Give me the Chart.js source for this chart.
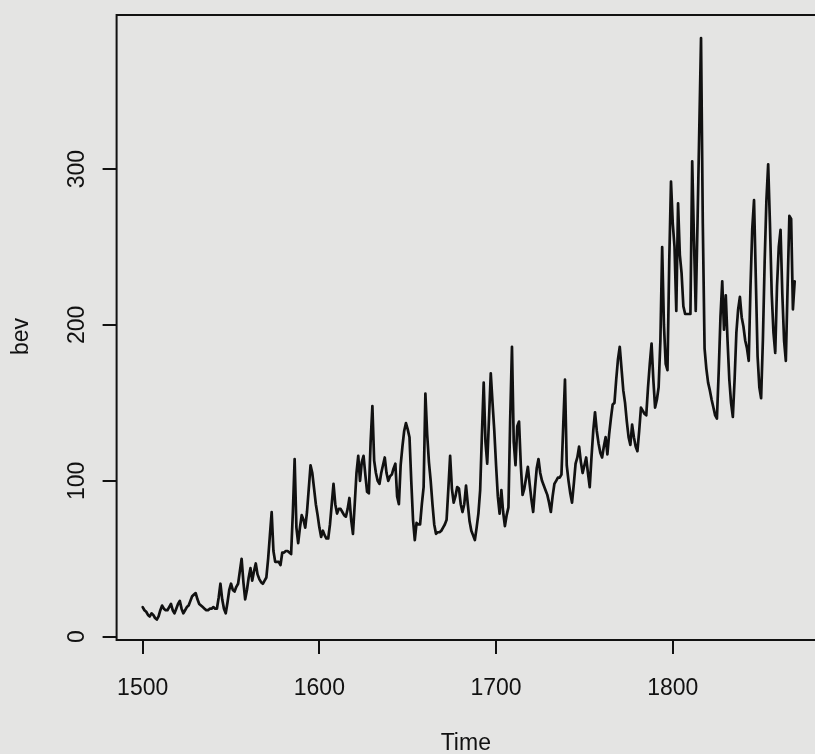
<!DOCTYPE html>
<html>
<head>
<meta charset="utf-8">
<title>bev</title>
<script src="https://cdn.jsdelivr.net/npm/chart.js@4.4.1/dist/chart.umd.min.js"></script>
<style>
    html, body { margin: 0; padding: 0; background: #e4e4e3; }
    #bevChart { display: block; }
</style>
</head>
<body>
<canvas id="bevChart" width="815" height="754"></canvas>
<script>
// Beveridge wheat price index, one value per year from 1500 to 1869
const startYear = 1500;

const bev1500s = [
    19, 17, 16, 14, 13, 15, 14, 12, 11, 13,
    17, 20, 18, 17, 17, 19, 21, 17, 15, 18,
    21, 23, 18, 15, 17, 19, 20, 23, 26, 27,
    28, 24, 21, 20, 19, 18, 17, 17, 18, 18,
    19, 18, 18, 25, 34, 24, 18, 15, 22, 30,
    34, 30, 29, 32, 34, 42, 50, 35, 24, 30,
    38, 44, 36, 42, 47, 40, 37, 35, 34, 36,
    38, 50, 65, 80, 55, 48, 48, 48, 46, 54,
    54, 55, 55, 54, 53, 80, 114, 70, 60, 70,
    78, 75, 70, 80, 95, 110, 105, 95, 85, 78
];

const bev1600s = [
    70, 64, 68, 65, 63, 63, 72, 85, 98, 85,
    79, 82, 82, 80, 78, 77, 82, 89, 75, 66,
    85, 105, 116, 100, 112, 116, 104, 93, 92, 125,
    148, 113, 105, 100, 98, 105, 110, 115, 105, 100,
    103, 104, 108, 111, 90, 85, 110, 122, 132, 137,
    133, 128, 100, 75, 62, 73, 72, 72, 85, 96,
    156, 130, 112, 100, 85, 72, 66, 67, 67, 68,
    70, 72, 75, 95, 116, 95, 86, 90, 96, 95,
    85, 80, 85, 97, 85, 74, 68, 65, 62, 70,
    79, 94, 130, 163, 125, 111, 140, 169, 150, 132
];

const bev1700s = [
    110, 90, 79, 94, 80, 71, 78, 83, 140, 186,
    125, 110, 135, 138, 110, 91, 95, 102, 109, 98,
    88, 80, 95, 108, 114, 105, 100, 97, 94, 91,
    86, 80, 90, 98, 100, 102, 102, 104, 135, 165,
    110, 100, 92, 86, 98, 111, 115, 122, 112, 105,
    110, 115, 105, 96, 115, 132, 144, 132, 124, 118,
    115, 122, 128, 117, 130, 140, 149, 150, 165, 178,
    186, 172, 158, 150, 138, 128, 123, 136, 128, 122,
    119, 132, 147, 145, 143, 142, 160, 175, 188, 165,
    147, 152, 160, 190, 250, 200, 175, 171, 240, 292
];

const bev1800s = [
    265, 250, 209, 278, 245, 233, 212, 207, 207, 207,
    207, 305, 255, 209, 265, 325, 384, 265, 185, 172,
    163, 158, 152, 147, 142, 140, 170, 205, 228, 197,
    219, 190, 165, 150, 141, 165, 195, 210, 218, 205,
    199, 190, 185, 177, 225, 262, 280, 230, 180, 160,
    153, 190, 240, 280, 303, 265, 220, 195, 182, 225,
    250, 261, 220, 190, 177, 225, 270, 268, 210, 228
];

const xTicks = [1500, 1600, 1700, 1800];
const yTicks = [0, 100, 200, 300];
const xTitle = "Time";
const yTitle = "bev";

const inkColor = "#111111";
const labelFont = { family: "'Liberation Sans', Arial, sans-serif", size: 23 };

function buildPoints() {
    const values = bev1500s.concat(bev1600s, bev1700s, bev1800s);
    return values.map((v, i) => ({ x: startYear + i, y: v }));
}

// R-style frame, rotated y tick labels and y title
const rFramePlugin = {
    id: "rFrame",
    afterDraw(chart) {
        const { ctx, chartArea } = chart;
        const yScale = chart.scales.y;
        ctx.save();
        ctx.strokeStyle = inkColor;
        ctx.lineWidth = 2;
        ctx.strokeRect(chartArea.left, chartArea.top,
            chartArea.right - chartArea.left + 20, chartArea.bottom - chartArea.top);

        ctx.fillStyle = inkColor;
        ctx.font = labelFont.size + "px " + labelFont.family;
        ctx.textAlign = "center";
        ctx.textBaseline = "middle";
        const labelX = yScale.right - 39;
        yTicks.forEach(function (v) {
            ctx.save();
            ctx.translate(labelX, yScale.getPixelForValue(v));
            ctx.rotate(-Math.PI / 2);
            ctx.fillText(String(v), 0, 0);
            ctx.restore();
        });

        // axis title, a little below the middle as in the scan
        ctx.save();
        ctx.translate(22, (chartArea.top + chartArea.bottom) / 2 + 9);
        ctx.rotate(-Math.PI / 2);
        ctx.fillText(yTitle, 0, 0);
        ctx.restore();
        ctx.restore();
    }
};

const tickGrid = {
    drawOnChartArea: false,
    drawTicks: true,
    tickLength: 14,
    color: inkColor,
    lineWidth: 2
};

new Chart(document.getElementById("bevChart"), {
    type: "line",
    data: {
        datasets: [{
            data: buildPoints(),
            borderColor: inkColor,
            borderWidth: 2.7,
            borderJoinStyle: "round",
            borderCapStyle: "round",
            pointRadius: 0,
            tension: 0,
            fill: false
        }]
    },
    options: {
        responsive: false,
        devicePixelRatio: 1,
        animation: false,
        layout: { padding: { top: 15, left: 0, right: 0, bottom: 0 } },
        plugins: {
            legend: { display: false },
            tooltip: { enabled: false }
        },
        scales: {
            x: {
                type: "linear",
                min: 1485.24,
                max: 1880.5,
                afterBuildTicks: function (axis) {
                    axis.ticks = xTicks.map(v => ({ value: v }));
                },
                afterFit: function (axis) {
                    axis.height = 114;
                },
                grid: tickGrid,
                border: { display: false },
                ticks: {
                    color: inkColor,
                    font: labelFont,
                    padding: 21,
                    maxRotation: 0,
                    autoSkip: false,
                    callback: v => String(v)
                },
                title: {
                    display: true,
                    text: xTitle,
                    color: inkColor,
                    font: labelFont,
                    padding: { top: 0, bottom: -3 }
                }
            },
            y: {
                type: "linear",
                min: -2.1,
                max: 398.8,
                afterBuildTicks: function (axis) {
                    axis.ticks = yTicks.map(v => ({ value: v }));
                },
                afterFit: function (axis) {
                    axis.width = 116.6;
                },
                grid: tickGrid,
                border: { display: false },
                ticks: { display: false },
                title: { display: false }
            }
        }
    },
    plugins: [rFramePlugin]
});
</script>
</body>
</html>
